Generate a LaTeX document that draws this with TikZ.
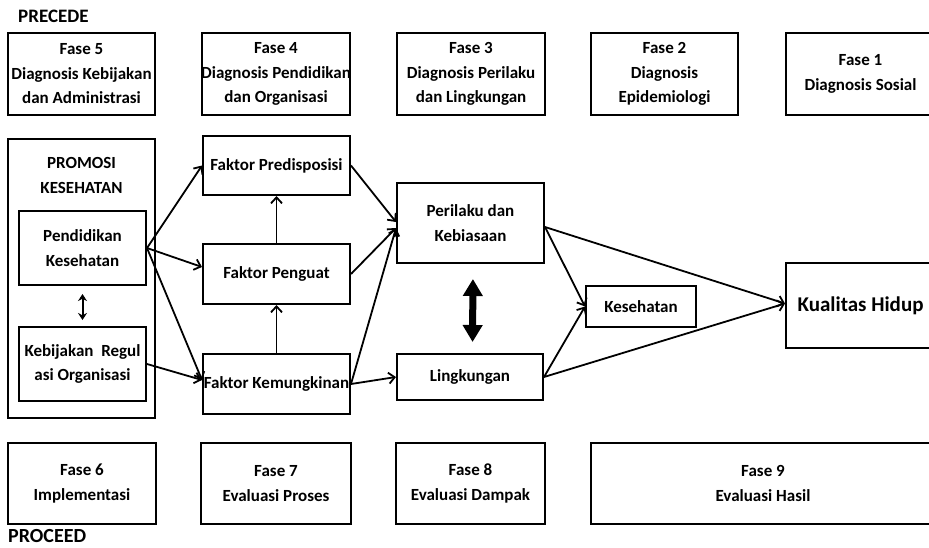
\documentclass[tikz,border=0pt]{standalone}
\usepackage{fontspec}
\setmainfont{Carlito}
\usetikzlibrary{arrows.meta}
\newcommand{\zl}[1]{\makebox[0pt]{#1}}
\begin{document}
\begin{tikzpicture}[x=1pt,y=-1pt,
  box/.style={draw, line width=2pt, inner sep=0pt, align=center,
    font=\bfseries\fontsize{17}{24.5}\selectfont},
  lbl/.style={inner sep=0pt, align=center, font=\bfseries\fontsize{17}{25}\selectfont},
  arr/.style={line width=1.8pt, -{Straight Barb[length=6pt,width=11pt]}},
  bigarr/.style={line width=7pt, {Triangle[length=17pt,width=19pt]}-{Triangle[length=17pt,width=19pt]}},
  smallarr/.style={line width=2pt, {Stealth[length=7pt,width=9pt]}-{Stealth[length=7pt,width=9pt]}}
]
\useasboundingbox (0,0) rectangle (929,547);
\clip (0,0) rectangle (929,547);

% titles
\node[anchor=west, inner sep=0pt, font=\bfseries\fontsize{19}{22}\selectfont] (precede) at (18,16) {PRECEDE};
\node[anchor=west, inner sep=0pt, font=\bfseries\fontsize{20}{24}\selectfont] (proceed) at (8,536) {PROCEED};

% top row
\node[box, minimum width=147pt, minimum height=82pt] (f5) at (81.5,74) {\zl{Fase 5}\\\zl{Diagnosis Kebijakan}\\\zl{dan Administrasi}};
\node[box, minimum width=148pt, minimum height=82pt] (f4) at (276,74) {\zl{Fase 4}\\\zl{Diagnosis Pendidikan}\\\zl{dan Organisasi}};
\node[box, minimum width=148pt, minimum height=82pt] (f3) at (471,74) {\zl{Fase 3}\\\zl{Diagnosis Perilaku}\\\zl{dan Lingkungan}};
\node[box, minimum width=147pt, minimum height=82pt] (f2) at (664.5,74) {\zl{Fase 2}\\\zl{Diagnosis}\\\zl{Epidemiologi}};
\node[box, minimum width=149pt, minimum height=82pt] (f1) at (860.5,74) {\zl{Fase 1}\\\zl{Diagnosis Sosial}};

% promosi
\node[box, minimum width=147pt, minimum height=279pt] (promo) at (81.5,278.5) {};
\node[lbl] (promot) at (81.5,175) {PROMOSI\\KESEHATAN};
\node[box, minimum width=127pt, minimum height=74pt] (pend) at (82.5,248) {\zl{Pendidikan}\\\zl{Kesehatan}};
\node[box, minimum width=127pt, minimum height=74pt] (kebij) at (82.5,364) {\zl{Kebijakan\ \ Regul}\\\zl{asi Organisasi}};

% faktor
\node[box, minimum width=147pt, minimum height=59pt] (pred) at (276.5,165.5) {\zl{Faktor Predisposisi}};
\node[box, minimum width=147pt, minimum height=60pt] (peng) at (276.5,274) {\zl{Faktor Penguat}};
\node[box, minimum width=147pt, minimum height=60pt] (kemu) at (276.5,384) {\zl{Faktor Kemungkinan}};

% perilaku etc
\node[box, minimum width=147pt, minimum height=80pt] (peri) at (470.5,223) {\zl{Perilaku dan}\\\zl{Kebiasaan}};
\node[box, minimum width=146pt, minimum height=46pt] (ling) at (470,377) {\zl{Lingkungan}};
\node[box, minimum width=110pt, minimum height=41pt] (kes) at (641,306.5) {\zl{Kesehatan}};
\node[box, minimum width=149pt, minimum height=85pt, font=\bfseries\fontsize{21}{25}\selectfont] (kual) at (860.5,305.5) {\zl{Kualitas Hidup}};

% bottom row
\node[box, minimum width=148pt, minimum height=81pt] (f6) at (82,483.5) {\zl{Fase 6}\\\zl{Implementasi}};
\node[box, minimum width=150pt, minimum height=81pt] (f7) at (276,483.5) {\zl{Fase 7}\\\zl{Evaluasi Proses}};
\node[box, minimum width=149pt, minimum height=81pt] (f8) at (470.5,483.5) {\zl{Fase 8}\\\zl{Evaluasi Dampak}};
\node[box, minimum width=344pt, minimum height=81pt] (f9) at (763,483.5) {\zl{Fase 9}\\\zl{Evaluasi Hasil}};

% arrows
\draw[arr] (pend.east) -- (pred.west);
\draw[arr] (pend.east) -- ([yshift=7pt]peng.west);
\draw[arr] (pend.east) -- ([yshift=4pt]kemu.west);
\draw[arr] (kebij.east) -- ([yshift=4pt]kemu.west);
\draw[arr] (kemu.north) -- (peng.south);
\draw[arr] (peng.north) -- (pred.south);
\draw[arr] (pred.east) -- ([yshift=1pt]peri.west);
\draw[arr] (peng.east) -- ([yshift=-5pt]peri.west);
\draw[arr] (kemu.east) -- ([yshift=-5pt]peri.west);
\draw[arr] (kemu.east) -- (ling.west);
\draw[arr] ([yshift=-4pt]peri.east) -- (kes.west);
\draw[arr] ([yshift=-4pt]peri.east) -- ([yshift=2pt]kual.west);
\draw[arr] (ling.east) -- (kes.west);
\draw[arr] (ling.east) -- ([yshift=2pt]kual.west);
\draw[bigarr, shorten <=15pt, shorten >=11pt] ([xshift=2.5pt]peri.south) -- ([xshift=2.5pt]ling.north);
\draw[smallarr, shorten <=8pt, shorten >=6pt] (pend.south) -- (kebij.north);
\end{tikzpicture}
\end{document}
